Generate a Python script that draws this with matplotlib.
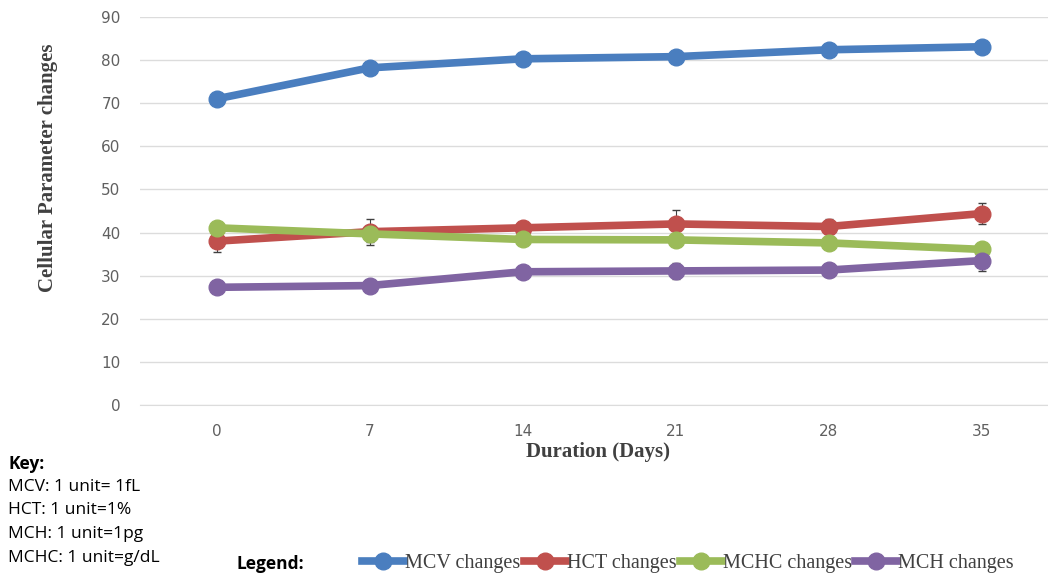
import matplotlib.pyplot as plt
from matplotlib.lines import Line2D

# days on the x axis
days = ["0", "7", "14", "21", "28", "35"]

mcv = [71.0, 78.2, 80.3, 80.8, 82.4, 83.1]
hct = [38.0, 40.2, 41.1, 42.0, 41.4, 44.4]
mchc = [41.1, 39.7, 38.4, 38.3, 37.6, 36.1]
mch = [27.3, 27.7, 30.9, 31.1, 31.3, 33.5]

hct_err = [2.5, 3.0, 1.0, 3.2, 1.8, 2.5]
mchc_err = [0.8, 2.0, 1.0, 1.0, 0.8, 0.8]
mch_err = [0.5, 0.6, 1.2, 1.8, 1.5, 2.5]
mcv_err = [0.5, 0.5, 0.5, 0.5, 0.5, 0.5]

colors = {"MCV": "#4a7ebf", "HCT": "#c0504d", "MCHC": "#9bbb59", "MCH": "#8064a2"}

fig = plt.figure(figsize=(10.48, 5.73), dpi=100)
ax = fig.add_axes([140 / 1048, 1 - 405 / 573, 918 / 1048, 388 / 573])

x = list(range(len(days)))
series = [("MCV", mcv, mcv_err), ("HCT", hct, hct_err),
          ("MCHC", mchc, mchc_err), ("MCH", mch, mch_err)]
for name, vals, err in series:
    ax.errorbar(x, vals, yerr=err, color=colors[name], lw=5.5, marker="o",
                ms=12, ecolor="#404040", elinewidth=0.8, capsize=3, zorder=3)

ax.set_xlim(-0.5, 5.5)
ax.set_ylim(0, 90)
ax.set_yticks(range(0, 91, 10))
ax.set_xticks(x)
ax.set_xticklabels(days, family="Liberation Sans Narrow", color="#606060", fontsize=11)
for t in ax.get_yticklabels():
    t.set_color("#606060")
    t.set_fontsize(11)
ax.tick_params(length=0, pad=14)
ax.grid(axis="y", color="#dcdcdc", lw=1)
ax.set_axisbelow(True)
for s in ["top", "right", "left"]:
    ax.spines[s].set_visible(False)
ax.spines["bottom"].set_color("#dcdcdc")

fig.text(48 / 1048, 1 - 168 / 573, "Cellular Parameter changes", rotation=90,
         ha="center", va="center", family="Liberation Serif", weight="bold",
         fontsize=15, color="#404040")
fig.text(598 / 1048, 1 - 452 / 573, "Duration (Days)", ha="center", va="center",
         family="Liberation Serif", weight="bold", fontsize=15, color="#404040")

fig.text(8 / 1048, 1 - 464 / 573, "Key:", ha="left", va="center",
         family="Open Sans", weight="bold", fontsize=12.5)
key_lines = ["MCV: 1 unit= 1fL", "HCT: 1 unit=1%", "MCH: 1 unit=1pg", "MCHC: 1 unit=g/dL"]
for i, s in enumerate(key_lines):
    fig.text(8 / 1048, 1 - (487 + 23.5 * i) / 573, s, ha="left", va="center",
             family="Open Sans", fontsize=12.5)

fig.text(237 / 1048, 1 - 564 / 573, "Legend:", ha="left", va="center",
         family="Open Sans", weight="bold", fontsize=12.5)
handles = [Line2D([], [], color=colors[n], lw=5.5, marker="o", ms=12) for n in colors]
labels = ["MCV changes", "HCT changes", "MCHC changes", "MCH changes"]
fig.legend(handles, labels, loc="center left", bbox_to_anchor=(344 / 1048, 1 - 563 / 573),
           ncol=4, frameon=False, handlelength=2.1, handletextpad=0.05, columnspacing=0.15,
           prop={"family": "Liberation Serif", "size": 14.5}, labelcolor="#404040")

fig.savefig("out.png", dpi=100)
